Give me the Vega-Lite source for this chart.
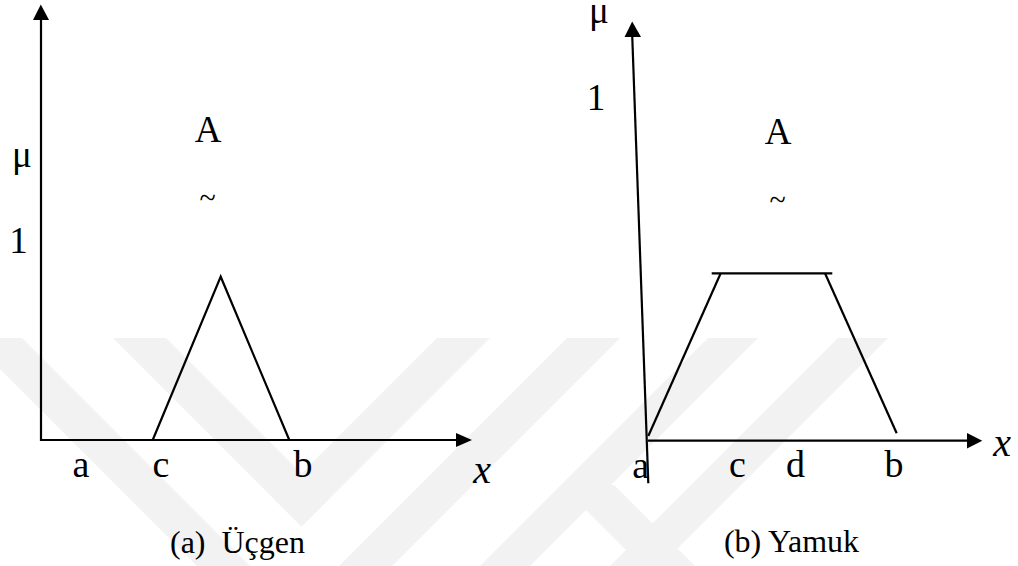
{
  "$schema": "https://vega.github.io/schema/vega-lite/v6.json",
  "width": 1018,
  "height": 566,
  "autosize": "none",
  "padding": 0,
  "background": "white",
  "config": {"view": {"stroke": null}},
  "datasets": {
    "wm": [
      {"band": "B1", "y": 338, "x1": -31, "x2": 22},
      {"band": "B1", "y": 566, "x1": 197, "x2": 250},
      {"band": "B2", "y": 338, "x1": 113, "x2": 166},
      {"band": "B2", "y": 500, "x1": 275, "x2": 328},
      {"band": "B2", "y": 526.5, "x1": 301.5, "x2": 301.5},
      {"band": "P1", "y": 338, "x1": 437, "x2": 490},
      {"band": "P1", "y": 500, "x1": 275, "x2": 328},
      {"band": "P1", "y": 526.5, "x1": 301.5, "x2": 301.5},
      {"band": "P2", "y": 338, "x1": 567, "x2": 620},
      {"band": "P2", "y": 566, "x1": 339, "x2": 392},
      {"band": "P3", "y": 338, "x1": 708, "x2": 758},
      {"band": "P3", "y": 566, "x1": 480, "x2": 530},
      {"band": "P4", "y": 338, "x1": 838, "x2": 888},
      {"band": "P4", "y": 566, "x1": 610, "x2": 660},
      {"band": "R", "y": 485, "x1": 561, "x2": 614},
      {"band": "R", "y": 566, "x1": 642, "x2": 695}
    ],
    "lines": [
      {"g": "la", "o": 1, "x": 41, "y": 19},
      {"g": "la", "o": 2, "x": 41, "y": 440},
      {"g": "la", "o": 3, "x": 458, "y": 440},
      {"g": "lt", "o": 1, "x": 152.7, "y": 440},
      {"g": "lt", "o": 2, "x": 220.7, "y": 276.7},
      {"g": "lt", "o": 3, "x": 289.3, "y": 440},
      {"g": "rv", "o": 1, "x": 648.3, "y": 483.3},
      {"g": "rv", "o": 2, "x": 632.2, "y": 35},
      {"g": "rh", "o": 1, "x": 648, "y": 440.7},
      {"g": "rh", "o": 2, "x": 969, "y": 440.7},
      {"g": "tl", "o": 1, "x": 648.3, "y": 436},
      {"g": "tl", "o": 2, "x": 720.7, "y": 273.3},
      {"g": "tt", "o": 1, "x": 711.7, "y": 273.3},
      {"g": "tt", "o": 2, "x": 832.3, "y": 273.3},
      {"g": "tr", "o": 1, "x": 825, "y": 273.3},
      {"g": "tr", "o": 2, "x": 896.7, "y": 433.3}
    ],
    "arrowsH": [
      {"id": "ah1", "x": 456, "y": 433, "y2": 447},
      {"id": "ah1", "x": 472, "y": 440, "y2": 440},
      {"id": "ah2", "x": 967, "y": 433, "y2": 448.5},
      {"id": "ah2", "x": 982.3, "y": 440.7, "y2": 440.7}
    ],
    "arrowsV": [
      {"id": "av1", "y": 4.5, "x": 40.8, "x2": 40.8},
      {"id": "av1", "y": 20, "x": 33, "x2": 49},
      {"id": "av2", "y": 21.5, "x": 632.2, "x2": 632.2},
      {"id": "av2", "y": 37, "x": 624.5, "x2": 641}
    ],
    "big": [
      {"t": "μ", "x": 22, "y": 167},
      {"t": "1", "x": 18.5, "y": 253},
      {"t": "A", "x": 208, "y": 142},
      {"t": "μ", "x": 599, "y": 23},
      {"t": "1", "x": 596, "y": 110},
      {"t": "A", "x": 778, "y": 144}
    ],
    "tilde": [
      {"t": "~", "x": 207.5, "y": 208},
      {"t": "~", "x": 777.5, "y": 210}
    ],
    "labels": [
      {"t": "a", "x": 81, "y": 477},
      {"t": "c", "x": 161, "y": 477},
      {"t": "b", "x": 303, "y": 477},
      {"t": "a", "x": 640.7, "y": 478},
      {"t": "c", "x": 737.5, "y": 477},
      {"t": "d", "x": 795.5, "y": 477},
      {"t": "b", "x": 894, "y": 477}
    ],
    "xlab": [
      {"t": "x", "x": 482, "y": 483},
      {"t": "x", "x": 1002, "y": 456}
    ],
    "captions": [
      {"t": "(a)\u00a0 Üçgen", "x": 237.5, "y": 553},
      {"t": "(b) Yamuk", "x": 791.5, "y": 552}
    ]
  },
  "layer": [
    {
      "data": {"name": "wm"},
      "mark": {"type": "area", "orient": "horizontal", "color": "#f2f2f2", "clip": true},
      "encoding": {
        "y": {"field": "y", "type": "quantitative", "scale": {"domain": [0, 566], "reverse": true, "nice": false, "zero": false}, "axis": null},
        "x": {"field": "x1", "type": "quantitative", "scale": {"domain": [0, 1018], "nice": false, "zero": false}, "axis": null},
        "x2": {"field": "x2"},
        "detail": {"field": "band"}
      }
    },
    {
      "data": {"name": "lines"},
      "mark": {"type": "line", "color": "black", "strokeWidth": 2.2, "strokeCap": "butt"},
      "encoding": {
        "x": {"field": "x", "type": "quantitative"},
        "y": {"field": "y", "type": "quantitative"},
        "detail": {"field": "g"},
        "order": {"field": "o"}
      }
    },
    {
      "data": {"name": "arrowsH"},
      "mark": {"type": "area", "orient": "vertical", "color": "black"},
      "encoding": {
        "x": {"field": "x", "type": "quantitative"},
        "y": {"field": "y", "type": "quantitative"},
        "y2": {"field": "y2"},
        "detail": {"field": "id"}
      }
    },
    {
      "data": {"name": "arrowsV"},
      "mark": {"type": "area", "orient": "horizontal", "color": "black"},
      "encoding": {
        "y": {"field": "y", "type": "quantitative"},
        "x": {"field": "x", "type": "quantitative"},
        "x2": {"field": "x2"},
        "detail": {"field": "id"}
      }
    },
    {
      "data": {"name": "big"},
      "mark": {"type": "text", "font": "Liberation Serif", "fontSize": 37, "align": "center", "baseline": "alphabetic", "color": "black"},
      "encoding": {
        "x": {"field": "x", "type": "quantitative"},
        "y": {"field": "y", "type": "quantitative"},
        "text": {"field": "t"}
      }
    },
    {
      "data": {"name": "tilde"},
      "mark": {"type": "text", "font": "Liberation Serif", "fontSize": 30, "align": "center", "baseline": "alphabetic", "color": "black"},
      "encoding": {
        "x": {"field": "x", "type": "quantitative"},
        "y": {"field": "y", "type": "quantitative"},
        "text": {"field": "t"}
      }
    },
    {
      "data": {"name": "labels"},
      "mark": {"type": "text", "font": "Liberation Serif", "fontSize": 38, "align": "center", "baseline": "alphabetic", "color": "black"},
      "encoding": {
        "x": {"field": "x", "type": "quantitative"},
        "y": {"field": "y", "type": "quantitative"},
        "text": {"field": "t"}
      }
    },
    {
      "data": {"name": "xlab"},
      "mark": {"type": "text", "font": "Liberation Serif", "fontSize": 40, "fontStyle": "italic", "align": "center", "baseline": "alphabetic", "color": "black"},
      "encoding": {
        "x": {"field": "x", "type": "quantitative"},
        "y": {"field": "y", "type": "quantitative"},
        "text": {"field": "t"}
      }
    },
    {
      "data": {"name": "captions"},
      "mark": {"type": "text", "font": "Liberation Serif", "fontSize": 32, "align": "center", "baseline": "alphabetic", "color": "black"},
      "encoding": {
        "x": {"field": "x", "type": "quantitative"},
        "y": {"field": "y", "type": "quantitative"},
        "text": {"field": "t"}
      }
    }
  ]
}
